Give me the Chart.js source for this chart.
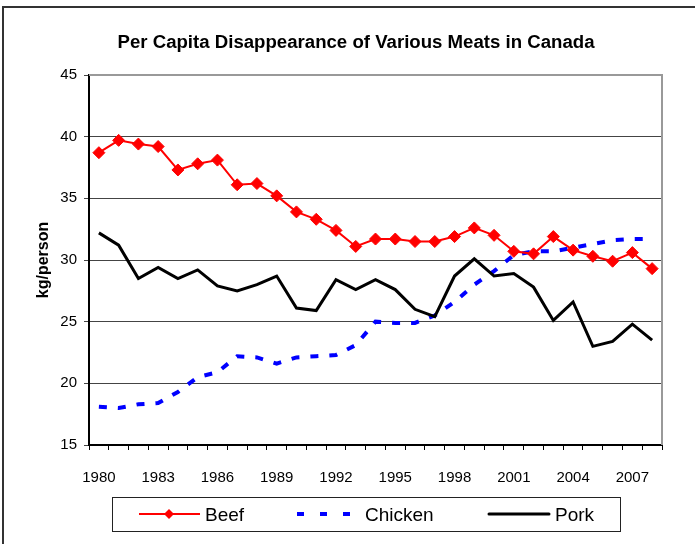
<!DOCTYPE html>
<html>
<head>
<meta charset="utf-8">
<title>Per Capita Disappearance of Various Meats in Canada</title>
<script src="https://cdn.jsdelivr.net/npm/chart.js@4.4.1/dist/chart.umd.min.js"></script>
<style>
  html, body { margin: 0; padding: 0; background: #fff; }
  #wrap { position: relative; width: 695px; height: 544px; overflow: hidden; }
  #frame { position: absolute; left: 2px; top: 6px; width: 800px; height: 700px;
           border-left: 2px solid #333; border-top: 2px solid #333; }
  canvas { position: absolute; left: 0; top: 0; }
  svg { position: absolute; left: 0; top: 0; }
  svg text { font-family: "Liberation Sans", Arial, sans-serif; fill: #000; }
</style>
</head>
<body>
<div id="wrap">
  <div id="frame"></div>
  <canvas id="meatChart" width="695" height="544"></canvas>
  <svg width="695" height="544">
    <text x="356" y="48" text-anchor="middle" font-size="18" font-weight="bold"
          textLength="477" lengthAdjust="spacingAndGlyphs">Per Capita Disappearance of Various Meats in Canada</text>
    <!-- legend -->
    <rect x="112.5" y="497.5" width="508" height="34" fill="#fff" stroke="#222" stroke-width="1"/>
    <line x1="139" y1="514" x2="200" y2="514" stroke="#f00" stroke-width="2"/>
    <path d="M169 509 L174 514 L169 519 L164 514 Z" fill="#f00"/>
    <text x="205" y="521" font-size="19">Beef</text>
    <line x1="297" y1="514" x2="353" y2="514" stroke="#00f" stroke-width="4" stroke-dasharray="7 16"/>
    <text x="365" y="521" font-size="19">Chicken</text>
    <line x1="489" y1="514" x2="549" y2="514" stroke="#000" stroke-width="3" stroke-linecap="round"/>
    <text x="555" y="521" font-size="19">Pork</text>
  </svg>
</div>
<script>
var years = ["1980", "1981", "1982", "1983", "1984", "1985", "1986", "1987", "1988", "1989",
             "1990", "1991", "1992", "1993", "1994", "1995", "1996", "1997", "1998", "1999",
             "2000", "2001", "2002", "2003", "2004", "2005", "2006", "2007", "2008"];

var shownYears = ["1980", "1983", "1986", "1989", "1992", "1995", "1998", "2001", "2004", "2007"];

var beef = [38.7, 39.7, 39.4, 39.2, 37.3, 37.8, 38.1, 36.1, 36.2, 35.2,
            33.9, 33.3, 32.4, 31.1, 31.7, 31.7, 31.5, 31.5, 31.9, 32.6,
            32.0, 30.7, 30.5, 31.9, 30.8, 30.3, 29.9, 30.6, 29.3];

var chicken = [18.1, 18.0, 18.3, 18.4, 19.3, 20.5, 20.9, 22.2, 22.1, 21.6,
               22.1, 22.2, 22.3, 23.1, 25.0, 24.9, 24.9, 25.5, 26.6, 28.0,
               29.1, 30.4, 30.7, 30.7, 31.0, 31.3, 31.6, 31.7, 31.7];

var pork = [32.2, 31.2, 28.5, 29.4, 28.5, 29.2, 27.9, 27.5, 28.0, 28.7,
            26.1, 25.9, 28.4, 27.6, 28.4, 27.6, 26.0, 25.4, 28.7, 30.1,
            28.7, 28.9, 27.8, 25.1, 26.6, 23.0, 23.4, 24.8, 23.5];

var yMin = 15, yMax = 45, yStep = 5;

// gray frame on top and right of the plot area
var plotFrame = {
  id: 'plotFrame',
  beforeDatasetsDraw: function(chart) {
    var a = chart.chartArea, ctx = chart.ctx;
    ctx.save();
    ctx.strokeStyle = '#999';
    ctx.lineWidth = 2;
    ctx.beginPath();
    ctx.moveTo(a.left, a.top);
    ctx.lineTo(a.right, a.top);
    ctx.lineTo(a.right, a.bottom);
    ctx.stroke();
    ctx.restore();
  }
};

var ctx = document.getElementById('meatChart');
var myChart = new Chart(ctx, {
  type: 'line',
  data: {
    labels: years,
    datasets: [{
      label: 'Beef',
      data: beef,
      borderColor: '#ff0000',
      backgroundColor: '#ff0000',
      borderWidth: 2,
      pointStyle: 'rectRot',
      pointRadius: 6,
      pointBorderWidth: 1,
      tension: 0,
      order: 0
    },
    {
      label: 'Chicken',
      data: chicken,
      borderColor: '#0000ff',
      backgroundColor: '#0000ff',
      borderWidth: 4,
      borderDash: [8, 11],
      pointRadius: 0,
      tension: 0,
      order: 2
    },
    {
      label: 'Pork',
      data: pork,
      borderColor: '#000000',
      backgroundColor: '#000000',
      borderWidth: 3,
      borderJoinStyle: 'miter',
      pointRadius: 0,
      tension: 0,
      order: 1
    }]
  },
  options: {
    responsive: false,
    animation: false,
    devicePixelRatio: 1,
    layout: { padding: { left: 20, right: 33, top: 75, bottom: 0 } },
    plugins: {
      legend: { display: false },
      title: { display: false },
      tooltip: { enabled: false }
    },
    scales: {
      x: {
        offset: true,
        afterFit: function(scale) { scale.height = 99; },
        grid: { offset: true, drawOnChartArea: false, drawTicks: true, tickLength: 5, color: '#000' },
        border: { display: true, color: '#000', width: 2 },
        ticks: {
          autoSkip: false,
          maxRotation: 0,
          padding: 19,
          color: '#000',
          font: { family: 'Liberation Sans', size: 15 },
          callback: function(val, i) {
            var lab = this.getLabelForValue(val);
            return shownYears.indexOf(lab) >= 0 ? lab : '';
          }
        }
      },
      y: {
        min: yMin,
        max: yMax,
        afterFit: function(scale) { scale.width = 69; },
        grid: { color: '#444', lineWidth: 1, tickLength: 5, drawTicks: true },
        border: { display: true, color: '#000', width: 2 },
        ticks: {
          stepSize: yStep,
          padding: 7,
          color: '#000',
          font: { family: 'Liberation Sans', size: 15 }
        },
        title: {
          display: true,
          text: 'kg/person',
          color: '#000',
          font: { family: 'Liberation Sans', size: 16, weight: 'bold' },
          padding: { top: 14, bottom: 0 }
        }
      }
    }
  },
  plugins: [plotFrame]
});
</script>
</body>
</html>
